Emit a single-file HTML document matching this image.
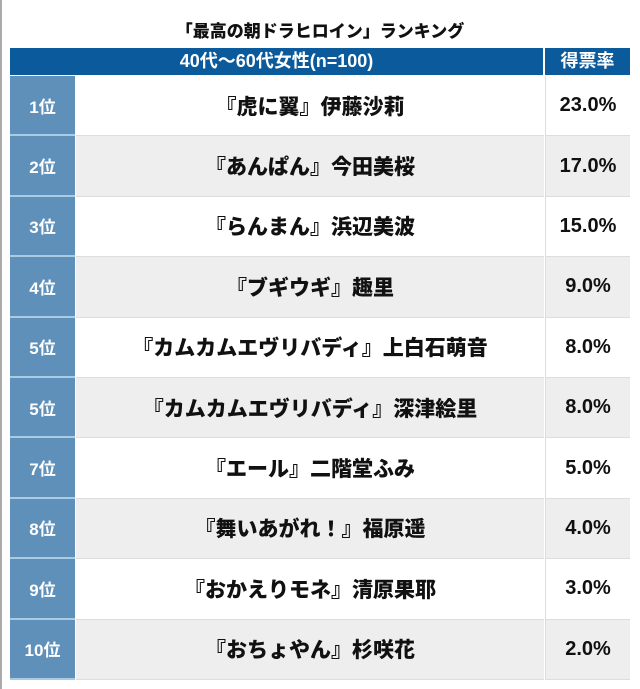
<!DOCTYPE html>
<html><head><meta charset="utf-8"><style>
body{margin:0;width:640px;height:689px;background:#fff;position:relative;overflow:hidden;font-family:"Liberation Sans","Noto Sans CJK JP",sans-serif;font-weight:bold;color:#111}
.edge{position:absolute;left:0;top:0;width:2px;height:689px;background:#aaa}
.title{position:absolute;left:0;width:640px;top:17px;text-align:center;font-size:17px;font-family:"Noto Sans CJK JP",sans-serif;font-weight:900}
.hd{position:absolute;top:48px;height:27px;background:#0b5a9c;color:#fff;font-size:18px;text-align:center;line-height:27px}
.row{position:absolute;left:10px;width:620px}
.rank{position:absolute;left:0;top:0;width:65px;height:100%;background:#5f90ba;color:#fff;font-size:17px;display:flex;align-items:center;justify-content:center;box-sizing:border-box;border-bottom:2px solid #a9cbe4}
.name{position:absolute;left:66px;width:468px;top:0;height:100%;display:flex;align-items:center;justify-content:center;font-size:21px;font-family:"Noto Sans CJK JP",sans-serif;font-weight:900;box-sizing:border-box;border-bottom:1px solid #ddd}
.pct{position:absolute;left:535px;width:85px;top:0;height:100%;display:flex;align-items:center;justify-content:center;font-size:20px;border-left:1px solid #ddd;box-sizing:border-box;border-bottom:1px solid #ddd}
</style></head><body>
<div class="edge"></div>
<div class="title">「最高の朝ドラヒロイン」ランキング</div>
<div class="hd" style="left:10px;width:533px">40代〜60代女性(n=100)</div>
<div class="hd" style="left:545px;width:85px">得票率</div>
<div id="tbl"></div>
<script>
const ranks=["1位","2位","3位","4位","5位","5位","7位","8位","9位","10位"];
const names=["『虎に翼』伊藤沙莉","『あんぱん』今田美桜","『らんまん』浜辺美波","『ブギウギ』趣里","『カムカムエヴリバディ』上白石萌音","『カムカムエヴリバディ』深津絵里","『エール』二階堂ふみ","『舞いあがれ！』福原遥","『おかえりモネ』清原果耶","『おちょやん』杉咲花"];
const values=[23.0,17.0,15.0,9.0,8.0,8.0,5.0,4.0,3.0,2.0];
const tbl=document.getElementById('tbl');
const top0=76,h=60.4;
ranks.forEach((r,i)=>{
 const row=document.createElement('div');row.className='row';
 
 
 row.style.top=(top0+i*h)+'px';row.style.height=h+'px';
 const bg=i%2?'#eeeeee':'#ffffff';
 const a=document.createElement('div');a.className='rank';a.textContent=r;
 
 
 const b=document.createElement('div');b.className='name';b.textContent=names[i];b.style.background=bg;
 
 
 const c=document.createElement('div');c.className='pct';c.textContent=values[i].toFixed(1)+'%';c.style.background=bg;
 
 
 row.append(a,b,c);tbl.appendChild(row);
});
</script>
</body></html>
